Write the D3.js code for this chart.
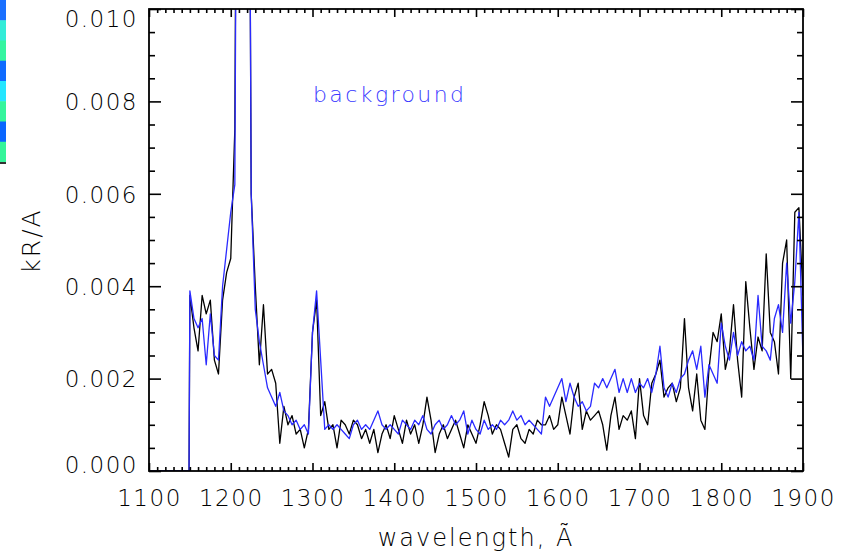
<!DOCTYPE html>
<html>
<head>
<meta charset="utf-8">
<script src="https://cdn.jsdelivr.net/npm/d3@7"></script>
<style>
  html, body { margin: 0; padding: 0; background: #ffffff; }
  svg { display: block; }
  text { font-family: "DejaVu Sans", sans-serif; font-weight: 200; }
</style>
</head>
<body>
<svg id="chart" width="856" height="554"></svg>
<script>
// ---------------- data ----------------
// sampling grid (Å): 5 Å steps, with the detector edge at 1149/1150
const wavelength = d3.range(1100, 1150, 5).concat([1149], d3.range(1150, 1901, 5));

const observed = [
  0,0,0,0,0,0,0,0,0,0, 0,
  0.0038,0.0031,0.0026,0.0038,0.0034,0.0037,0.0024,0.0021,0.0037,0.0043,
  0.0046,0.0074,0.0250,0.0300,0.0250,0.0060,0.0040,0.0023,0.0036,0.0021,
  0.0022,0.0019,0.0006,0.0014,0.0010,0.0012,0.0008,0.0009,0.0005,0.0009,
  0.0030,0.0037,0.0012,0.0015,0.0009,0.0010,0.0005,0.0011,0.0010,0.0008,
  0.0011,0.0010,0.0007,0.0009,0.0006,0.0009,0.0004,0.0008,0.0010,0.0007,
  0.0012,0.0009,0.0006,0.0011,0.0008,0.0010,0.0006,0.0010,0.0016,0.0011,
  0.0004,0.0008,0.0010,0.0007,0.0009,0.0011,0.0008,0.0005,0.0010,0.0008,
  0.0006,0.0010,0.0015,0.0012,0.0008,0.0010,0.0009,0.0006,0.0003,0.0009,
  0.0010,0.0007,0.0006,0.0009,0.0008,0.0011,0.0010,0.0010,0.0012,0.0009,
  0.0010,0.0016,0.0012,0.0008,0.0016,0.0019,0.0009,0.0013,0.0011,0.0012,
  0.0013,0.0010,0.00045,0.0012,0.0016,0.0009,0.0012,0.0011,0.0013,0.0007,
  0.0020,0.0012,0.0010,0.0019,0.0021,0.0024,0.0016,0.0018,0.0019,0.0015,
  0.0018,0.0033,0.0018,0.0013,0.0021,0.0011,0.0009,0.0022,0.0030,0.0028,
  0.0034,0.0022,0.0026,0.0036,0.0024,0.0016,0.0041,0.0031,0.0022,0.0029,
  0.0026,0.0047,0.0030,0.0028,0.0021,0.0045,0.0050,0.0020,0.0056,0.0057,
  0.0038
];

const background = [
  0,0,0,0,0,0,0,0,0,0, 0,
  0.0039,0.0033,0.0031,0.0033,0.0023,0.0034,0.0025,0.0024,0.0040,0.0048,
  0.0056,0.0062,0.0250,0.0300,0.0250,0.0060,0.0035,0.0028,0.0023,0.0018,
  0.0016,0.0014,0.0017,0.0013,0.0012,0.0010,0.0011,0.0009,0.0010,0.0008,
  0.0030,0.0039,0.0024,0.0009,0.0010,0.0009,0.0010,0.0009,0.0008,0.0007,
  0.0010,0.0011,0.0009,0.0010,0.0009,0.0011,0.0013,0.0010,0.0009,0.0010,
  0.0009,0.0008,0.0011,0.0010,0.0009,0.0011,0.0010,0.0012,0.0009,0.0008,
  0.0010,0.0011,0.0009,0.0010,0.0012,0.0010,0.0011,0.0013,0.0008,0.0011,
  0.0009,0.0008,0.0011,0.0009,0.0010,0.0009,0.0011,0.0010,0.0011,0.0013,
  0.0011,0.0012,0.0010,0.0011,0.0010,0.0009,0.0008,0.0016,0.0014,0.0016,
  0.0018,0.0020,0.0015,0.0019,0.0016,0.0014,0.0015,0.0013,0.0014,0.0019,
  0.0018,0.0020,0.0018,0.0020,0.0022,0.0017,0.0020,0.0017,0.0020,0.0017,
  0.0019,0.0018,0.0020,0.0017,0.0021,0.0027,0.0018,0.0016,0.0019,0.0017,
  0.0020,0.0021,0.0024,0.0026,0.0022,0.0027,0.0016,0.0023,0.0021,0.0019,
  0.0032,0.0027,0.0024,0.0030,0.0025,0.0028,0.0026,0.0027,0.0024,0.0038,
  0.0027,0.0026,0.0024,0.0033,0.0036,0.0030,0.0045,0.0032,0.0041,0.0056,
  0.0024
];

const xTicks = [1100, 1200, 1300, 1400, 1500, 1600, 1700, 1800, 1900];
const yTicks = [0.000, 0.002, 0.004, 0.006, 0.008, 0.010];
const xMinorTicks = d3.range(1100, 1901, 10).filter(v => v % 100 !== 0);
const yMinorTicks = [0.0005,0.001,0.0015,0.0025,0.003,0.0035,0.0045,0.005,0.0055,0.0065,0.007,0.0075,0.0085,0.009,0.0095];
const stripColors = ["#1a70ff","#33ecd8","#35f5a0","#0f6bff","#25e6ff","#35f59c","#0a66ff","#35f59a"];

// ---------------- layout ----------------
const svg = d3.select("#chart");
const L = 149, R = 803, T = 9, B = 471;
const x = d3.scaleLinear().domain([1100, 1900]).range([L, R]);
const y = d3.scaleLinear().domain([0, 0.010]).range([B, T]);
const FS = 23, LS = 1.5, TXT = "#000";

// left-edge colour strip (cropped image remnant)
const stripH = 162 / stripColors.length;
svg.selectAll("rect.strip").data(stripColors).enter().append("rect")
  .attr("x", 0).attr("y", (d, i) => i * stripH)
  .attr("width", 6).attr("height", stripH + 0.5).attr("fill", d => d);
svg.append("rect").attr("x", 0).attr("y", 162).attr("width", 6).attr("height", 2).attr("fill", "#333");

// clip
svg.append("clipPath").attr("id", "plotclip").append("rect")
  .attr("x", L).attr("y", T).attr("width", R - L).attr("height", B - T);

const line = d3.line().x((d, i) => x(wavelength[i])).y(d => y(d));

const g = svg.append("g").attr("clip-path", "url(#plotclip)");
g.append("path").datum(observed).attr("d", line)
  .attr("fill", "none").attr("stroke", "#000").attr("stroke-width", 1.3).attr("stroke-linejoin", "round");
g.append("path").datum(background).attr("d", line)
  .attr("fill", "none").attr("stroke", "#2a2aff").attr("stroke-width", 1.3).attr("stroke-linejoin", "round");

// axes
function styleAxis(sel) {
  sel.select(".domain").remove();
  sel.selectAll("line").attr("stroke", "#000").attr("stroke-width", 1.6);
}
function styleText(sel) {
  sel.attr("font-size", FS).attr("fill", TXT).attr("letter-spacing", LS)
     .attr("font-family", "DejaVu Sans").attr("font-weight", 200);
}
const fmtY = d3.format(".3f");

svg.append("g").attr("transform", `translate(0,${B})`)
  .call(d3.axisBottom(x).tickValues(xTicks).tickSize(-8).tickPadding(19).tickFormat(d3.format("d")))
  .call(styleAxis)
  .call(s => s.selectAll("text").call(styleText));
svg.append("g").attr("transform", `translate(0,${B})`)
  .call(d3.axisBottom(x).tickValues(xMinorTicks).tickSize(-4).tickFormat(""))
  .call(styleAxis);
svg.append("g").attr("transform", `translate(0,${T})`)
  .call(d3.axisTop(x).tickValues(xTicks).tickSize(-8).tickFormat(""))
  .call(styleAxis);
svg.append("g").attr("transform", `translate(0,${T})`)
  .call(d3.axisTop(x).tickValues(xMinorTicks).tickSize(-4).tickFormat(""))
  .call(styleAxis);

const yAxisG = svg.append("g").attr("transform", `translate(${L},0)`)
  .call(d3.axisLeft(y).tickValues(yTicks).tickSize(-12).tickPadding(11).tickFormat(fmtY))
  .call(styleAxis);
yAxisG.selectAll("text").call(styleText)
  .attr("dy", d => d === 0.010 ? "0.78em" : d === 0 ? "0.05em" : "0.36em");
svg.append("g").attr("transform", `translate(${L},0)`)
  .call(d3.axisLeft(y).tickValues(yMinorTicks).tickSize(-6).tickFormat(""))
  .call(styleAxis);
svg.append("g").attr("transform", `translate(${R},0)`)
  .call(d3.axisRight(y).tickValues(yTicks).tickSize(-12).tickFormat(""))
  .call(styleAxis);
svg.append("g").attr("transform", `translate(${R},0)`)
  .call(d3.axisRight(y).tickValues(yMinorTicks).tickSize(-6).tickFormat(""))
  .call(styleAxis);

// frame
svg.append("rect").attr("x", L).attr("y", T).attr("width", R - L).attr("height", B - T)
  .attr("fill", "none").attr("stroke", "#000").attr("stroke-width", 1.8);

// titles
svg.append("text").attr("x", 476).attr("y", 546).attr("text-anchor", "middle")
  .call(styleText).attr("font-size", 24).attr("letter-spacing", 2).text("wavelength, Ã");
svg.append("text").attr("transform", "translate(40,241) rotate(-90)").attr("text-anchor", "middle")
  .call(styleText).attr("font-size", 25).attr("letter-spacing", 2).text("kR/A");
svg.append("text").attr("x", 313).attr("y", 102)
  .call(styleText).attr("font-size", 22).attr("letter-spacing", 2.4).attr("fill", "#3a3aff").text("background");
</script>
</body>
</html>
